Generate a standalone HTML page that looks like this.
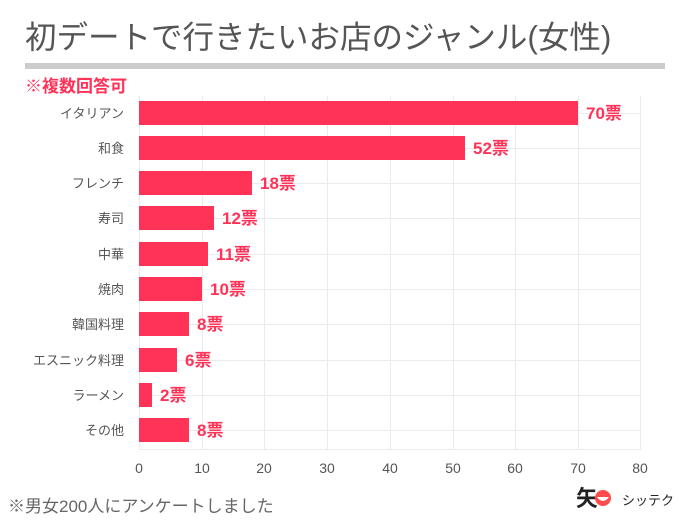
<!DOCTYPE html>
<html><head><meta charset="utf-8"><style>
body{margin:0;background:#fff;}
svg{display:block;font-family:"Liberation Sans","Noto Sans CJK JP",sans-serif;}
</style></head><body>
<svg width="684" height="520" xmlns="http://www.w3.org/2000/svg">
<rect width="684" height="520" fill="#fff"/>
<text x="25" y="48" font-size="31.5" fill="#555">初デートで行きたいお店のジャンル(女性)</text>
<rect x="25" y="63" width="640" height="6" fill="#cccccc"/>
<text x="25" y="92" font-size="17" font-weight="bold" fill="#ff3358">※複数回答可</text>
<g stroke="#ebebeb" stroke-width="1">
<line x1="139.5" y1="96" x2="139.5" y2="449"/>
<line x1="202.5" y1="96" x2="202.5" y2="449"/>
<line x1="264.5" y1="96" x2="264.5" y2="449"/>
<line x1="327.5" y1="96" x2="327.5" y2="449"/>
<line x1="390.5" y1="96" x2="390.5" y2="449"/>
<line x1="453.5" y1="96" x2="453.5" y2="449"/>
<line x1="515.5" y1="96" x2="515.5" y2="449"/>
<line x1="578.5" y1="96" x2="578.5" y2="449"/>
<line x1="640.5" y1="96" x2="640.5" y2="449"/>
<line x1="139" y1="449.5" x2="641" y2="449.5"/>
<line x1="139" y1="113.5" x2="641" y2="113.5"/>
<line x1="139" y1="148.5" x2="641" y2="148.5"/>
<line x1="139" y1="183.5" x2="641" y2="183.5"/>
<line x1="139" y1="218.5" x2="641" y2="218.5"/>
<line x1="139" y1="254.5" x2="641" y2="254.5"/>
<line x1="139" y1="289.5" x2="641" y2="289.5"/>
<line x1="139" y1="324.5" x2="641" y2="324.5"/>
<line x1="139" y1="360.5" x2="641" y2="360.5"/>
<line x1="139" y1="395.5" x2="641" y2="395.5"/>
<line x1="139" y1="430.5" x2="641" y2="430.5"/>
</g>
<g fill="#ff3358">
<rect x="139" y="101" width="439" height="24"/>
<rect x="139" y="136" width="326" height="24"/>
<rect x="139" y="171" width="113" height="24"/>
<rect x="139" y="206" width="75" height="24"/>
<rect x="139" y="242" width="69" height="24"/>
<rect x="139" y="277" width="63" height="24"/>
<rect x="139" y="312" width="50" height="24"/>
<rect x="139" y="348" width="38" height="24"/>
<rect x="139" y="383" width="13" height="24"/>
<rect x="139" y="418" width="50" height="24"/>
</g>
<g fill="#ff3358" font-size="17" font-weight="bold">
<text x="586" y="119">70票</text>
<text x="473" y="154">52票</text>
<text x="260" y="189">18票</text>
<text x="222" y="224">12票</text>
<text x="216" y="260">11票</text>
<text x="210" y="295">10票</text>
<text x="197" y="330">8票</text>
<text x="185" y="366">6票</text>
<text x="160" y="401">2票</text>
<text x="197" y="436">8票</text>
</g>
<g fill="#555" font-size="13" text-anchor="end">
<text x="124" y="118">イタリアン</text>
<text x="124" y="153">和食</text>
<text x="124" y="188">フレンチ</text>
<text x="124" y="223">寿司</text>
<text x="124" y="259">中華</text>
<text x="124" y="294">焼肉</text>
<text x="124" y="329">韓国料理</text>
<text x="124" y="365">エスニック料理</text>
<text x="124" y="400">ラーメン</text>
<text x="124" y="435">その他</text>
</g>
<g fill="#555" font-size="14" text-anchor="middle">
<text x="139" y="473">0</text><text x="202" y="473">10</text><text x="264" y="473">20</text>
<text x="327" y="473">30</text><text x="390" y="473">40</text><text x="453" y="473">50</text>
<text x="515" y="473">60</text><text x="578" y="473">70</text><text x="640" y="473">80</text>
</g>
<text x="8" y="512" font-size="17" fill="#666">※男女200人にアンケートしました</text>
<text x="576" y="506" font-size="22" font-weight="bold" fill="#222">矢</text>
<circle cx="603" cy="498" r="8" fill="#ff4b4b"/>
<path d="M597 497 Q603 505 609 497 Z" fill="#fff"/>
<text x="622" y="505" font-size="13" fill="#222">シッテク</text>
</svg>
</body></html>
